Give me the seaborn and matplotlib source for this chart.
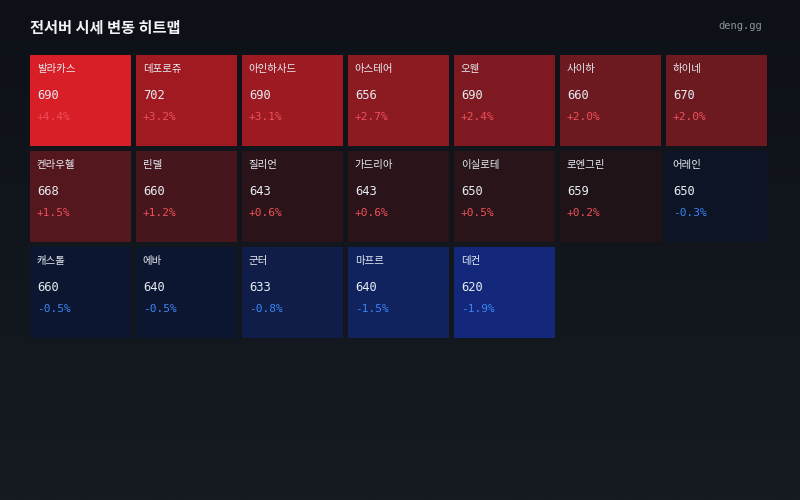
import numpy as np
import pandas as pd
import matplotlib.pyplot as plt
import seaborn as sns
from matplotlib.colors import ListedColormap, LinearSegmentedColormap, TwoSlopeNorm

# server names, prices and change (%) in tile order
names = ['발라카스', '데포로쥬', '아인하사드', '아스테어', '오웬', '사이하', '하이네',
         '켄라우헬', '린델', '질리언', '가드리아', '이실로테', '로엔그린', '어레인',
         '캐스톨', '에바', '군터', '마프르', '데컨']
prices = [690, 702, 690, 656, 690, 660, 670,
          668, 660, 643, 643, 650, 659, 650,
          660, 640, 633, 640, 620]
changes = [4.4, 3.2, 3.1, 2.7, 2.4, 2.0, 2.0,
           1.5, 1.2, 0.6, 0.6, 0.5, 0.2, -0.3,
           -0.5, -0.5, -0.8, -1.5, -1.9]

N_COLS = 7
N_ROWS = 3
W, H = 800, 500
BG_TOP = '#0d1117'
BG_BOTTOM = '#161b22'

sns.set_theme(style='dark')
plt.rcParams['font.family'] = ['Noto Sans CJK KR', 'DejaVu Sans']
MONO = ['DejaVu Sans Mono', 'Noto Sans CJK KR']

# pad the list out to a full grid, empty cells become NaN
grid = np.full(N_ROWS * N_COLS, np.nan)
grid[:len(changes)] = changes
grid = pd.DataFrame(grid.reshape(N_ROWS, N_COLS))
mask = grid.isna()

# diverging map: navy -> blue for losses, dark maroon -> red for gains
blues = LinearSegmentedColormap.from_list('b', [
    (0.0, '#13287a'), (0.21, '#10235f'), (0.58, '#0f1d48'),
    (0.74, '#0d1630'), (0.84, '#0d1426'), (1.0, '#0c1220')])(np.linspace(0, 1, 256))
reds = LinearSegmentedColormap.from_list('r', [
    (0.0, '#1a1217'), (0.136, '#2b1419'), (0.27, '#46161c'),
    (0.45, '#6c1920'), (0.73, '#a11a22'), (1.0, '#d81e26')])(np.linspace(0, 1, 256))
cmap = ListedColormap(np.vstack([blues, reds]))
cmap.set_bad((0, 0, 0, 0))
norm = TwoSlopeNorm(vmin=-1.9, vcenter=0, vmax=4.4)

fig = plt.figure(figsize=(W / 100, H / 100), dpi=100)

# background gradient
bg = fig.add_axes([0, 0, 1, 1], zorder=0)
grad = LinearSegmentedColormap.from_list('bg', [BG_TOP, BG_BOTTOM])
bg.imshow(np.linspace(0, 1, 256).reshape(-1, 1), aspect='auto', cmap=grad,
          extent=[0, 1, 0, 1])
bg.set_axis_off()

# heatmap axes, padded by half a gap so the outer tiles keep their full size
gap = 5
left, top = 30 - gap / 2 - 0.75, 55 - gap / 2 - 0.75
cw, ch = 106, 96
ax = fig.add_axes([left / W, 1 - (top + N_ROWS * ch) / H, N_COLS * cw / W, N_ROWS * ch / H],
                  zorder=1)
sns.heatmap(grid, mask=mask, cmap=cmap, norm=norm, cbar=False, ax=ax,
            linewidths=gap * 72 / 100, linecolor=BG_TOP, square=False,
            xticklabels=False, yticklabels=False)

# gap lines take the background shade of their row; none round empty cells
mesh = ax.collections[0]
edges = []
for r in range(N_ROWS):
    row_col = grad((top + (r + 0.5) * ch) / H)
    for c in range(N_COLS):
        edges.append((0, 0, 0, 0) if mask.iloc[r, c] else row_col)
mesh.set_edgecolor(edges)

ax.set_facecolor('none')
ax.set_xlim(0, N_COLS)
ax.set_ylim(N_ROWS, 0)
for s in ax.spines.values():
    s.set_visible(False)

for k, (name, price, chg) in enumerate(zip(names, prices, changes)):
    r, c = divmod(k, N_COLS)
    x = c + 10 / cw
    ax.text(x, r + 17.5 / ch, name, color='#e6edf3', fontsize=7.5,
            va='center', ha='left')
    ax.text(x, r + 43.5 / ch, str(price), color='#e6edf3', fontsize=8.7,
            va='center', ha='left', family=MONO)
    ax.text(x, r + 65.5 / ch, f'{chg:+.1f}%', color='#f0505a' if chg > 0 else '#3a86f5',
            fontsize=8, va='center', ha='left', family=MONO)

fig.text(30 / W, 1 - 28 / H, '전서버 시세 변동 히트맵', color='#f0f3f6',
         fontsize=11, fontweight='bold', va='center', ha='left')
fig.text(762 / W, 1 - 26 / H, 'deng.gg', color='#8b949e', fontsize=7.5,
         va='center', ha='right', family=MONO)

fig.savefig('out.png', dpi=100, facecolor=BG_TOP)
